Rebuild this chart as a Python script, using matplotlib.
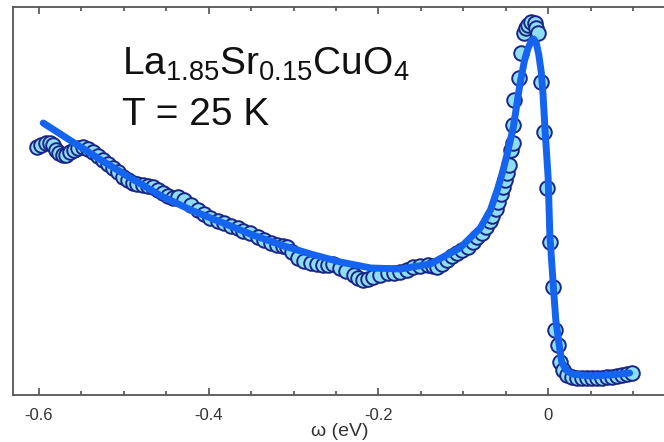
import numpy as np
import matplotlib
matplotlib.use("Agg")
import matplotlib.pyplot as plt

plt.rcParams['font.family'] = ['Liberation Sans', 'DejaVu Sans']
plt.rcParams['mathtext.default'] = 'regular'

# ARPES-like spectrum, energy in eV, intensity in arbitrary units
omega_data = [-0.602, -0.598, -0.592, -0.587, -0.584, -0.580, -0.576, -0.572, -0.568, -0.564,
              -0.559, -0.554, -0.548, -0.542, -0.536, -0.531, -0.525, -0.519, -0.513, -0.507,
              -0.501, -0.495, -0.489, -0.484, -0.478, -0.472, -0.466, -0.460, -0.454, -0.448,
              -0.442, -0.436, -0.429, -0.421, -0.413, -0.406, -0.398, -0.389, -0.382, -0.374,
              -0.366, -0.359, -0.351, -0.342, -0.335, -0.327, -0.319, -0.313, -0.308, -0.302,
              -0.295, -0.288, -0.280, -0.272, -0.265, -0.259, -0.253, -0.245, -0.238, -0.229,
              -0.224, -0.218, -0.212, -0.206, -0.198, -0.189, -0.182, -0.174, -0.166, -0.159,
              -0.151, -0.142, -0.136, -0.131, -0.125, -0.119, -0.113, -0.107, -0.101, -0.095,
              -0.089, -0.084, -0.078, -0.073, -0.069, -0.066, -0.062, -0.059, -0.055, -0.053,
              -0.051, -0.048, -0.046, -0.044, -0.042, -0.041, -0.040, -0.034, -0.032, -0.029,
              -0.026, -0.024, -0.020, -0.016, -0.014, -0.012, -0.008, -0.005, -0.001, 0.002,
              0.006, 0.008, 0.012, 0.014, 0.018, 0.022, 0.028, 0.034, 0.040, 0.046,
              0.052, 0.058, 0.064, 0.069, 0.075, 0.081, 0.087, 0.093, 0.099]
intensity_data = [248, 250, 252, 252, 250, 245, 242, 240, 240, 243,
                  245, 247, 248, 246, 243, 239, 235, 231, 227, 223,
                  218, 215, 212, 211, 210, 209, 208, 205, 202, 199,
                  197, 198, 195, 190, 185, 181, 177, 174, 172, 169,
                  167, 164, 162, 158, 155, 152, 150, 149, 148, 143,
                  137, 134, 132, 131, 130, 130, 131, 127, 124, 120,
                  117, 115, 116, 118, 120, 122, 122, 123, 125, 128,
                  129, 130, 129, 128, 131, 135, 139, 142, 145, 148,
                  153, 158, 162, 168, 174, 179, 186, 193, 201, 208,
                  215, 222, 230, 245, 252, 270, 295, 317, 342, 362,
                  367, 370, 373, 372, 367, 362, 313, 263, 207, 153,
                  108, 65, 50, 33, 25, 20, 18, 17, 17, 17,
                  17, 17, 17, 18, 18, 19, 20, 21, 22]

# fitted curve
omega_fit = [-0.595, -0.562, -0.527, -0.492, -0.456, -0.421, -0.386, -0.351, -0.315, -0.280,
             -0.245, -0.209, -0.174, -0.139, -0.104, -0.080, -0.068, -0.060, -0.054, -0.048,
             -0.041, -0.033, -0.028, -0.024, -0.020, -0.017, -0.014, -0.011, -0.008, -0.006,
             -0.004, 0.000, 0.002, 0.006, 0.009, 0.013, 0.016, 0.021, 0.028, 0.049,
             0.073, 0.096]
intensity_fit = [272, 254, 235, 217, 199, 185, 173, 161, 150, 141,
                 133, 127, 126, 131, 147, 167, 185, 205, 222, 242,
                 268, 312, 334, 346, 354, 356, 352, 340, 322, 300,
                 270, 217, 160, 110, 75, 50, 33, 25, 21, 19,
                 20, 22]

fig = plt.figure(figsize=(6.64, 4.42), dpi=100)
ax = fig.add_axes([13 / 664, 47 / 442, 651 / 664, 388 / 442])

ax.plot(omega_data, intensity_data, 'o', markersize=10.5, markerfacecolor='#8fdcf5',
        markeredgecolor='#1a2685', markeredgewidth=1.4, zorder=2)
ax.plot(omega_fit, intensity_fit, '-', color='#1464f0', linewidth=5,
        solid_joinstyle='round', solid_capstyle='round', zorder=3)

ax.set_xlim(-0.6306, 0.1365)
ax.set_ylim(0, 388)
ax.set_yticks([])
ax.set_xticks([-0.6, -0.4, -0.2, 0])
ax.set_xticklabels(['-0.6', '-0.4', '-0.2', '0'])
ax.set_xticks(np.arange(-0.6, 0.11, 0.05), minor=True)
ax.tick_params(axis='x', which='both', direction='in', top=True, bottom=True,
               colors='#444444', labelcolor='#333333', labelsize=12, pad=9)
ax.tick_params(axis='x', which='major', length=5, width=1.1)
ax.tick_params(axis='x', which='minor', length=3, width=1.1)

for side in ['left', 'top', 'bottom']:
    ax.spines[side].set_color('#555555')
    ax.spines[side].set_linewidth(1.3)
ax.spines['right'].set_visible(False)

ax.set_xlabel('ω (eV)', fontsize=14, color='#333333')
ax.xaxis.set_label_coords(0.502, -0.094)
ax.xaxis.label.set_va('center')

ax.text(0.168, 0.825, 'La$_{1.85}$Sr$_{0.15}$CuO$_{4}$', transform=ax.transAxes,
        fontsize=28, va='baseline', ha='left', color='#111111')
ax.text(0.168, 0.696, 'T = 25 K', transform=ax.transAxes,
        fontsize=28, va='baseline', ha='left', color='#111111')

fig.savefig('out.png', dpi=100)
